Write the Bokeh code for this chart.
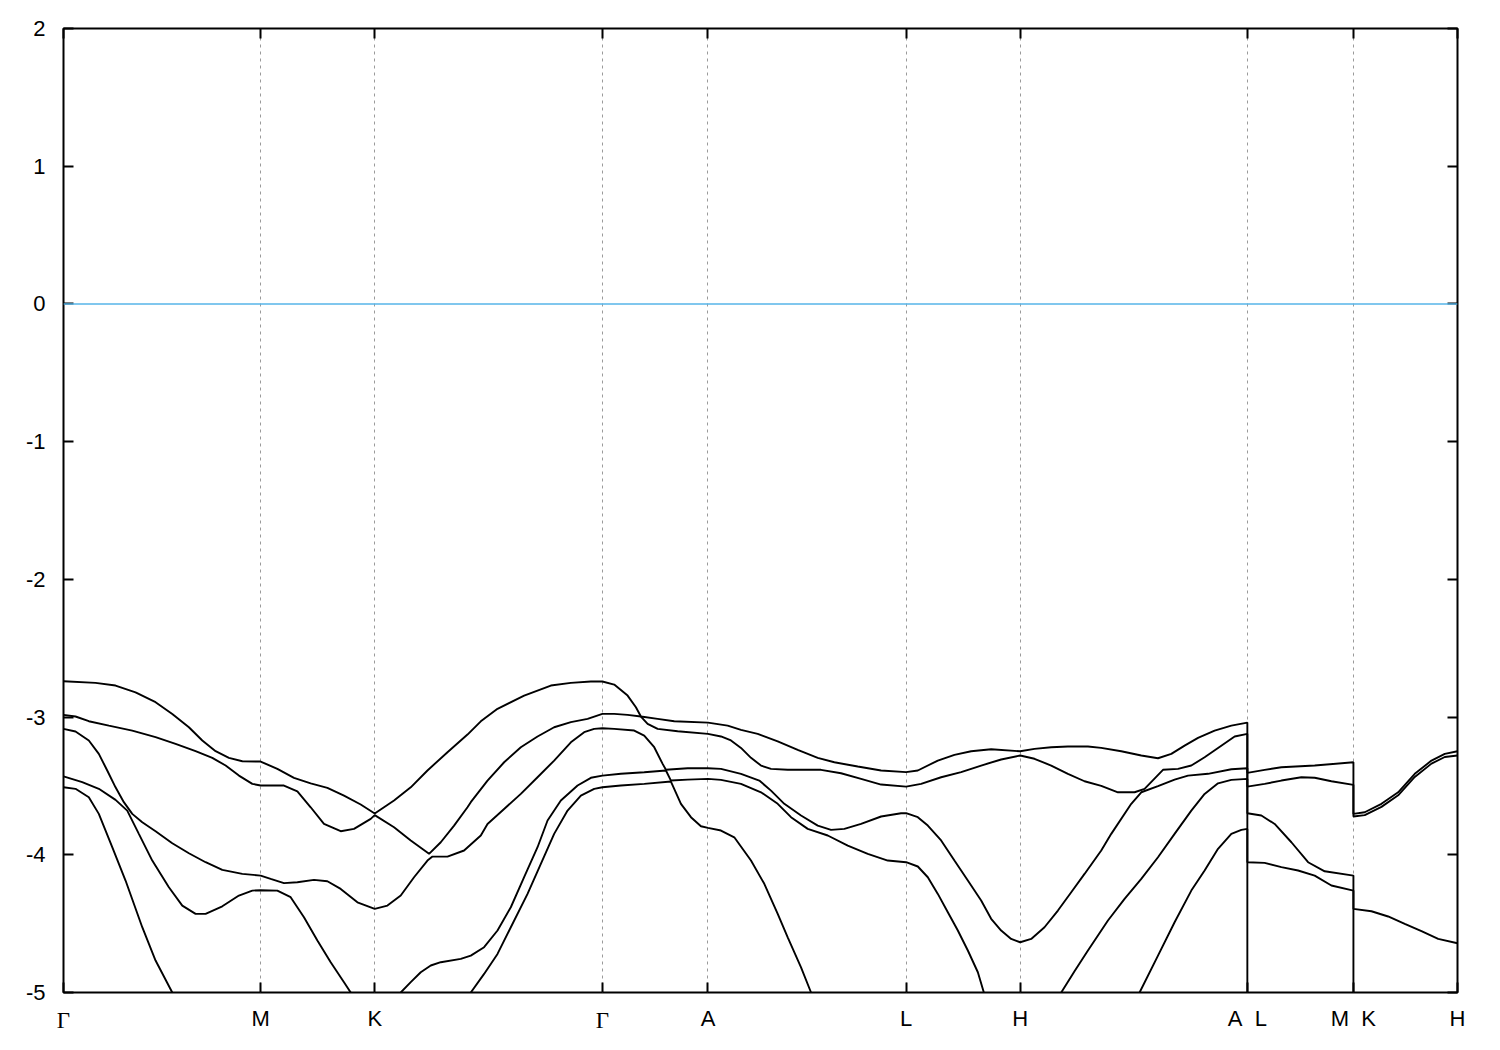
import math
from bokeh.plotting import figure
from bokeh.models import Range1d, FixedTicker, LinearAxis, Span, Grid
from bokeh.embed import file_html
from bokeh.resources import INLINE

nan = math.nan
NB = "\u00a0"

# high-symmetry path (k distance, arbitrary units) and labels
k_ticks = [0.0, 1.97, 3.11, 5.385, 6.44, 8.42, 9.56, 11.83, 12.89, 13.93]
k_labels = ["Γ", "M", "K", "Γ", "A", "L", "H", "A" + NB * 2 + "L", "M" + NB * 2 + "K", "H"]
e_ticks = [-5, -4, -3, -2, -1, 0, 1, 2]
e_labels = ["-5", "-4", "-3", "-2", "-1", "0", "1", "2"]
fermi_level = 0.0
e_min, e_max = -5.0, 2.0
k_min, k_max = 0.0, 13.93

# bands (energies in eV), sorted from top to bottom; NaN = outside the window
band1_k = [0.000, 0.320, 0.520, 0.720, 0.920, 1.087, 1.253, 1.387, 1.520, 1.653, 1.787, 1.970,
           2.137, 2.303, 2.470, 2.637, 2.803, 2.970, 3.110,
           3.303, 3.470, 3.637, 3.837, 4.037, 4.170, 4.337, 4.603, 4.870, 5.070, 5.270, 5.385,
           5.503, 5.637, 5.720, 5.770, 5.937, 6.103, 6.440,
           6.637, 6.770, 6.937, 7.137, 7.337, 7.537, 7.703, 7.937, 8.170, 8.420,
           8.537, 8.737, 8.903, 9.070, 9.270, 9.560,
           9.703, 9.870, 10.037, 10.237, 10.370, 10.570, 10.770, 10.937, 11.070, 11.203, 11.337, 11.503, 11.670, 11.830,
           11.830, 12.003, 12.170, 12.503, 12.890,
           12.890, 13.003, 13.170, 13.337, 13.503, 13.670, 13.803, 13.930]
band1_e = [-2.740, -2.752, -2.771, -2.820, -2.892, -2.977, -3.074, -3.170, -3.248, -3.296, -3.321, -3.323,
           -3.376, -3.441, -3.481, -3.514, -3.570, -3.635, -3.700,
           -3.606, -3.510, -3.388, -3.255, -3.127, -3.031, -2.940, -2.844, -2.771, -2.752, -2.742, -2.742,
           -2.764, -2.844, -2.929, -2.996, -3.013, -3.030, -3.040,
           -3.062, -3.093, -3.122, -3.176, -3.238, -3.296, -3.328, -3.359, -3.388, -3.400,
           -3.388, -3.316, -3.274, -3.248, -3.234, -3.248,
           -3.231, -3.219, -3.214, -3.214, -3.224, -3.248, -3.279, -3.299, -3.267, -3.207, -3.151, -3.098, -3.062, -3.040,
           -3.405, -3.383, -3.364, -3.352, -3.328,
           -3.703, -3.691, -3.630, -3.546, -3.412, -3.316, -3.267, -3.248]

band2_k = [0.000, 0.120, 0.253, 0.453, 0.687, 0.920, 1.120, 1.320, 1.487, 1.620, 1.753, 1.887, 1.970,
           2.203, 2.337, 2.470, 2.603, 2.770, 2.903, 3.070, 3.110,
           3.303, 3.470, 3.653, 3.770, 3.903, 4.037, 4.070, 4.237, 4.403, 4.570, 4.737, 4.903, 5.070, 5.237, 5.385,
           5.503, 5.637, 5.770, 5.837, 5.937, 6.137, 6.440,
           6.570, 6.670, 6.770, 6.870, 6.970, 7.070, 7.237, 7.570, 7.770, 7.970, 8.170, 8.420,
           8.570, 8.770, 8.970, 9.170, 9.370, 9.560,
           9.703, 9.870, 10.037, 10.203, 10.370, 10.537, 10.703, 10.803, 10.987, 11.137, 11.270, 11.403, 11.537, 11.703, 11.830,
           11.830, 12.003, 12.170, 12.370, 12.503, 12.670, 12.890,
           12.890, 13.003, 13.170, 13.337, 13.503, 13.670, 13.803, 13.930]
band2_e = [-2.984, -2.996, -3.030, -3.062, -3.098, -3.146, -3.195, -3.248, -3.296, -3.352, -3.425, -3.485, -3.497,
           -3.497, -3.539, -3.655, -3.776, -3.829, -3.812, -3.739, -3.712,
           -3.800, -3.896, -3.993, -3.909, -3.788, -3.655, -3.618, -3.461, -3.328, -3.219, -3.141, -3.074, -3.037, -3.013, -2.977,
           -2.977, -2.984, -2.996, -3.049, -3.086, -3.103, -3.122,
           -3.141, -3.170, -3.224, -3.296, -3.352, -3.376, -3.383, -3.383, -3.408, -3.449, -3.490, -3.505,
           -3.485, -3.437, -3.400, -3.352, -3.308, -3.279,
           -3.303, -3.352, -3.412, -3.466, -3.500, -3.546, -3.546, -3.521, -3.383, -3.376, -3.352, -3.292, -3.224, -3.141, -3.122,
           -3.505, -3.485, -3.461, -3.437, -3.441, -3.466, -3.492,
           -3.722, -3.712, -3.652, -3.568, -3.435, -3.338, -3.290, -3.279]

band3_k = [0.000, 0.120, 0.253, 0.353, 0.437, 0.520, 0.603, 0.687, 0.787, 0.920, 1.087, 1.253, 1.420, 1.587, 1.787, 1.970,
           2.070, 2.203, 2.337, 2.503, 2.637, 2.770, 2.937, 3.110,
           3.237, 3.370, 3.503, 3.637, 3.687, 3.837, 4.003, 4.170, 4.237, 4.403, 4.570, 4.737, 4.903, 5.070, 5.203, 5.303, 5.385,
           5.503, 5.703, 5.803, 5.903, 5.987, 6.020, 6.237, 6.440,
           6.570, 6.770, 6.953, 7.070, 7.203, 7.370, 7.537, 7.670, 7.803, 7.970, 8.170, 8.370, 8.420,
           8.537, 8.637, 8.770, 8.903, 9.037, 9.170, 9.270, 9.370, 9.470, 9.560,
           9.670, 9.803, 9.937, 10.070, 10.203, 10.370, 10.470, 10.670, 10.770, 10.937, 11.103, 11.237, 11.437, 11.670, 11.830,
           11.830, 11.970, 12.103, 12.270, 12.437, 12.603, 12.890,
           12.890, 13.070, 13.237, 13.403, 13.570, 13.737, 13.930]
band3_e = [-3.086, -3.105, -3.170, -3.267, -3.388, -3.510, -3.618, -3.703, -3.764, -3.829, -3.916, -3.989, -4.054, -4.110, -4.139, -4.151,
           -4.175, -4.206, -4.199, -4.182, -4.192, -4.248, -4.345, -4.393,
           -4.369, -4.296, -4.163, -4.042, -4.013, -4.013, -3.969, -3.860, -3.776, -3.667, -3.558, -3.437, -3.316, -3.183, -3.110, -3.086, -3.081,
           -3.086, -3.098, -3.134, -3.219, -3.340, -3.383, -3.372, -3.372,
           -3.376, -3.412, -3.461, -3.534, -3.630, -3.715, -3.788, -3.819, -3.812, -3.776, -3.722, -3.698, -3.698,
           -3.727, -3.788, -3.896, -4.042, -4.187, -4.332, -4.465, -4.550, -4.611, -4.635,
           -4.611, -4.526, -4.405, -4.272, -4.139, -3.969, -3.848, -3.630, -3.546, -3.502, -3.454, -3.425, -3.412, -3.379, -3.372,
           -3.698, -3.715, -3.776, -3.909, -4.054, -4.120, -4.151,
           -4.393, -4.410, -4.448, -4.502, -4.555, -4.611, -4.642]

band4_k = [0.000, 0.187, 0.353, 0.520, 0.637, 0.753, 0.887, 1.053, 1.187, 1.320, 1.420, 1.587, 1.753, 1.887, 1.970,
           2.137, 2.270, 2.403, 2.537, 2.670, 2.803, 2.870, 3.110,
           3.370, 3.470, 3.570, 3.670, 3.770, 3.970, 4.070, 4.203, 4.337, 4.470, 4.603, 4.737, 4.837, 4.970, 5.137, 5.270, 5.385,
           5.570, 5.803, 6.020, 6.070, 6.237, 6.440,
           6.570, 6.770, 6.970, 7.137, 7.270, 7.437, 7.637, 7.837, 8.037, 8.237, 8.420,
           8.537, 8.637, 8.737, 8.837, 8.937, 9.037, 9.137, 9.197, 9.560,
           9.970, 10.103, 10.237, 10.437, 10.603, 10.770, 10.937, 11.103, 11.270, 11.403, 11.537, 11.670, 11.830,
           11.830, 12.003, 12.170, 12.337, 12.503, 12.670, 12.890,
           12.890, 13.930]
band4_e = [-3.430, -3.473, -3.521, -3.601, -3.679, -3.848, -4.042, -4.236, -4.369, -4.429, -4.429, -4.374, -4.296, -4.260, -4.257,
           -4.260, -4.308, -4.453, -4.623, -4.780, -4.925, -5.000, nan,
           -5.000, -4.925, -4.853, -4.804, -4.780, -4.756, -4.732, -4.671, -4.550, -4.381, -4.163, -3.945, -3.751, -3.606, -3.497, -3.441, -3.425,
           -3.412, -3.401, -3.388, -3.461, -3.454, -3.449,
           -3.456, -3.485, -3.546, -3.630, -3.727, -3.812, -3.860, -3.933, -3.993, -4.042, -4.054,
           -4.085, -4.163, -4.284, -4.417, -4.550, -4.695, -4.853, -5.000, nan,
           -5.000, -4.845, -4.695, -4.477, -4.320, -4.175, -4.018, -3.848, -3.679, -3.558, -3.481, -3.456, -3.449,
           -4.054, -4.059, -4.090, -4.114, -4.151, -4.223, -4.260,
           -5.600, nan]

band5_k = [0.000, 0.120, 0.253, 0.353, 0.487, 0.620, 0.787, 0.920, 1.087, 3.110,
           4.070, 4.203, 4.337, 4.470, 4.637, 4.770, 4.903, 5.037, 5.170, 5.303, 5.385,
           5.570, 5.803, 6.070, 6.170, 6.270, 6.370, 6.440,
           6.570, 6.703, 6.870, 7.003, 7.137, 7.237, 7.370, 7.470, 9.560,
           10.753, 10.937, 11.103, 11.270, 11.403, 11.537, 11.670, 11.770, 11.830,
           11.830, 12.890]
band5_e = [-3.510, -3.521, -3.582, -3.703, -3.945, -4.187, -4.526, -4.768, -5.000, nan,
           -5.000, -4.865, -4.720, -4.526, -4.284, -4.066, -3.848, -3.679, -3.570, -3.521, -3.510,
           -3.497, -3.485, -3.468, -3.630, -3.727, -3.793, -3.805,
           -3.824, -3.873, -4.042, -4.211, -4.429, -4.599, -4.817, -5.000, nan,
           -5.000, -4.732, -4.490, -4.260, -4.114, -3.957, -3.848, -3.819, -3.812,
           -5.600, nan]

bands = [(band1_k, band1_e), (band2_k, band2_e), (band3_k, band3_e),
         (band4_k, band4_e), (band5_k, band5_e)]

p = figure(frame_width=1394, frame_height=964,
           x_range=Range1d(k_min, k_max), y_range=Range1d(e_min, e_max),
           x_axis_type=None, y_axis_type=None,
           output_backend="svg", toolbar_location=None,
           min_border_left=63, min_border_top=28, min_border_right=30, min_border_bottom=45)
p.background_fill_color = "white"
p.border_fill_color = "white"
p.outline_line_color = "black"
p.outline_line_width = 2

xt = FixedTicker(ticks=k_ticks, minor_ticks=[])
yt = FixedTicker(ticks=e_ticks, minor_ticks=[])
gamma_ticks = [k for k, lab in zip(k_ticks, k_labels) if lab == "Γ"]
gt = FixedTicker(ticks=gamma_ticks, minor_ticks=[])

sans = "Liberation Sans"
fs = "22px"

def style(ax):
    ax.axis_line_color = None
    ax.major_tick_in = 10
    ax.major_tick_out = 0
    ax.major_tick_line_color = "black"
    ax.major_tick_line_width = 2
    ax.minor_tick_line_color = None
    ax.major_label_text_font = sans
    ax.major_label_text_font_size = fs
    ax.major_label_text_color = "black"

xb = LinearAxis(ticker=xt)
style(xb)
xb.major_label_overrides = {k: ("" if lab == "Γ" else lab) for k, lab in zip(k_ticks, k_labels)}
xb.major_label_standoff = 13
p.add_layout(xb, "below")

# serif Γ labels on a second bottom axis, pulled up level with the others
xg = LinearAxis(ticker=gt)
style(xg)
xg.major_tick_line_color = None
xg.major_label_overrides = {k: "Γ" for k in gamma_ticks}
xg.major_label_text_font = "Liberation Serif"
xg.major_label_text_font_size = "23px"
xg.major_label_standoff = -26
p.add_layout(xg, "below")

xa = LinearAxis(ticker=xt)
style(xa)
xa.major_label_overrides = {k: "" for k in k_ticks}
xa.major_label_text_font_size = "0px"
xa.major_label_standoff = 0
p.add_layout(xa, "above")

yl = LinearAxis(ticker=yt)
style(yl)
yl.major_label_overrides = {t: lab for t, lab in zip(e_ticks, e_labels)}
yl.major_label_standoff = 18
p.add_layout(yl, "left")

yr = LinearAxis(ticker=yt)
style(yr)
yr.major_label_overrides = {t: "" for t in e_ticks}
yr.major_label_text_font_size = "0px"
yr.major_label_standoff = 0
p.add_layout(yr, "right")

p.add_layout(Grid(dimension=0, ticker=xt, grid_line_color="#9a9a9a",
                  grid_line_dash="3 4", grid_line_width=1))

p.add_layout(Span(location=fermi_level, dimension="width",
                  line_color="#56b4e9", line_width=1.5))

for bk, be in bands:
    p.line(bk, be, line_color="black", line_width=1.9)

open("out.html", "w").write(file_html(p, INLINE))
